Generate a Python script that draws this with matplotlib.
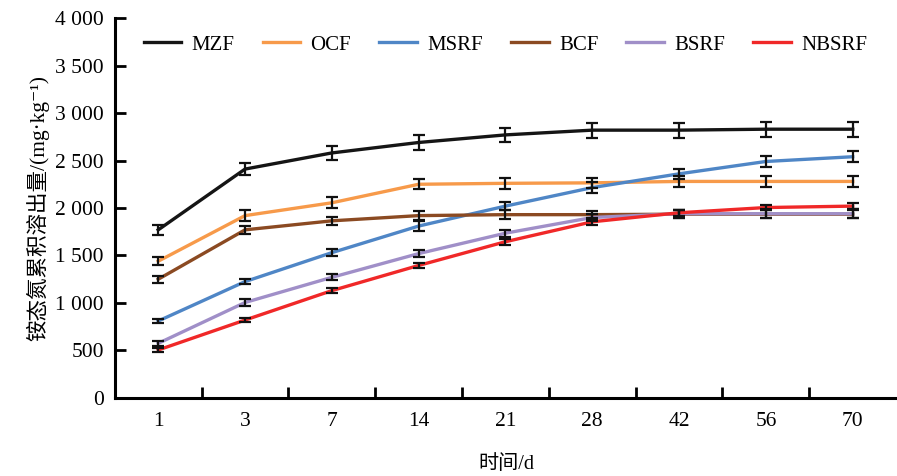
import numpy as np
import matplotlib.pyplot as plt

plt.rcParams['font.family'] = ['Liberation Serif', 'Noto Sans CJK SC', 'DejaVu Sans']

days = ['1', '3', '7', '14', '21', '28', '42', '56', '70']
names = ['MZF', 'OCF', 'MSRF', 'BCF', 'BSRF', 'NBSRF']
colors = ['#151515', '#f79a4a', '#4f86c6', '#8b4a22', '#a08fc8', '#f02828']

mzf = [1770, 2410, 2580, 2690, 2770, 2820, 2820, 2830, 2830]
ocf = [1440, 1920, 2055, 2250, 2260, 2265, 2280, 2280, 2280]
msrf = [810, 1225, 1530, 1810, 2020, 2215, 2360, 2490, 2540]
bcf = [1250, 1770, 1865, 1920, 1930, 1930, 1935, 1935, 1935]
bsrf = [575, 1005, 1270, 1520, 1735, 1900, 1940, 1940, 1940]
nbsrf = [505, 820, 1130, 1395, 1645, 1855, 1950, 2005, 2020]

mzf_err = [50, 60, 70, 75, 75, 80, 80, 80, 80]
ocf_err = [40, 60, 60, 55, 55, 55, 55, 60, 60]
msrf_err = [25, 30, 35, 50, 40, 55, 55, 60, 60]
bcf_err = [35, 40, 45, 45, 45, 40, 40, 40, 40]
bsrf_err = [25, 35, 30, 35, 35, 40, 40, 45, 45]
nbsrf_err = [25, 20, 25, 25, 30, 30, 30, 30, 30]

series = [mzf, ocf, msrf, bcf, bsrf, nbsrf]
errs = [mzf_err, ocf_err, msrf_err, bcf_err, bsrf_err, nbsrf_err]

fig = plt.figure(figsize=(8.97, 4.76), dpi=100)
ax = fig.add_axes([0.128, 0.164, 0.871, 0.798])

x = np.arange(len(days)) + 0.5
for vals, err, c, n in zip(series, errs, colors, names):
    ax.plot(x, vals, color=c, lw=2.4, label=n, zorder=3)
    ax.errorbar(x, vals, yerr=err, fmt='none', ecolor='#111111',
                elinewidth=1.6, capsize=4, capthick=1.6, zorder=4)

ax.set_xlim(0, len(days))
ax.set_ylim(0, 4000)
ax.set_xticks(np.arange(1, len(days)))
ax.set_xticklabels([])
ax.set_xticks(x, minor=True)
ax.set_xticklabels(days, minor=True)
ax.tick_params(axis='x', which='minor', length=0, pad=10, labelsize=15.5)
ax.tick_params(axis='x', which='major', direction='in', length=8, width=2)

yt = np.arange(0, 4001, 500)
ax.set_yticks(yt)
ax.set_yticklabels(['{:,}'.format(v).replace(',', ' ') for v in yt])
ax.tick_params(axis='y', direction='in', length=8, width=2, labelsize=15.5, pad=8)

for s in ['top', 'right']:
    ax.spines[s].set_visible(False)
for s in ['left', 'bottom']:
    ax.spines[s].set_linewidth(2.2)

ax.set_ylabel('铵态氮累积溶出量/(mg·kg⁻¹)', fontsize=15.5, labelpad=4)
fig.text(0.565, 0.015, '时间/d', fontsize=14.5, ha='center')

ax.legend(loc='upper center', bbox_to_anchor=(0.5, 1.005), ncol=6, frameon=False,
          fontsize=15, handlelength=1.8, columnspacing=1.35, handletextpad=0.5)

fig.savefig('out.png', dpi=100)
